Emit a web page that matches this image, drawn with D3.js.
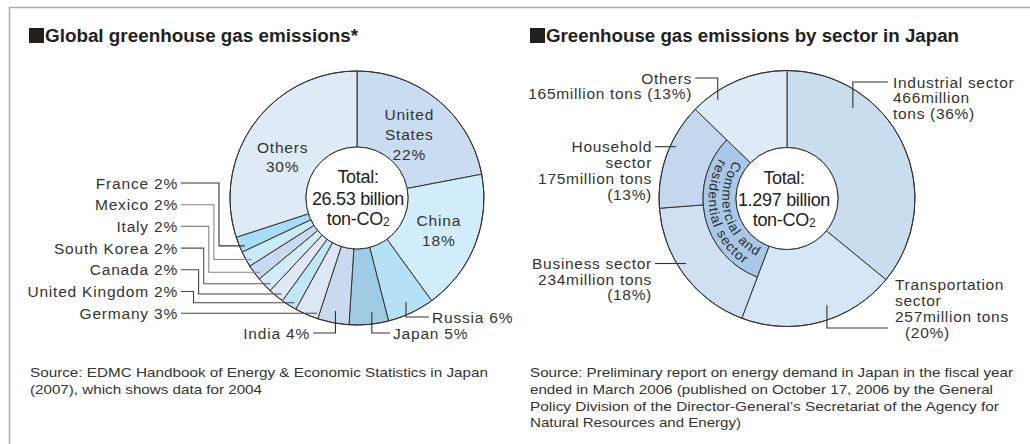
<!DOCTYPE html>
<html><head><meta charset="utf-8">
<script src="https://cdn.jsdelivr.net/npm/d3@7"></script>
<style>
html,body{margin:0;padding:0;background:#fff;}
svg{display:block;font-family:"Liberation Sans",Arial,Helvetica,sans-serif;}
</style></head>
<body>
<svg id="c" width="1030" height="444"></svg>
<script>
// ---------- data ----------
const globalNames = ["United States","China","Russia","Japan","India","Germany","United Kingdom","Canada","South Korea","Italy","Mexico","France","Others"];
const globalShares = [22,18,6,5,4,3,2,2,2,2,2,2,30];
const globalColors = ["#c9dcf1","#d1edfb","#b5e1f6","#9fcbe5","#c9daf0","#dde7f4","#c3e6f7","#dfe9f5","#d3ebf8","#c9d9ef","#c7e9f8","#a9dcf4","#dfeaf7"];
const globalTotal = ["Total:","26.53 billion","ton-CO"];

const sectorNames = ["Industrial sector","Transportation sector","Business sector","Household sector","Others"];
const sectorValues = [466,257,234,175,165];
const sectorPct = [36,20,18,13,13];
const sectorColors = ["#c9ddee","#d5e7f7","#d0e0f3","#c5d7ef","#dfebf8"];
const ringLabel = ["Commercial and","residential sector"];
const ringColor = "#a9c7e7";
const sectorTotal = ["Total:","1.297 billion","ton-CO"];

const titles = ["Global greenhouse gas emissions*","Greenhouse gas emissions by sector in Japan"];
const sourceLeft = ["Source: EDMC Handbook of Energy & Economic Statistics in Japan","(2007), which shows data for 2004"];
const sourceRight = ["Source: Preliminary report on energy demand in Japan in the fiscal year","ended in March 2006 (published on October 17, 2006 by the General","Policy Division of the Director-General\u2019s Secretariat of the Agency for","Natural Resources and Energy)"];

// ---------- drawing ----------
const svg = d3.select("#c");
const txt = "#333";
const deg = Math.PI/180;

// frame
svg.append("path").attr("d","M9.5,444 V7.5 H1030").attr("fill","none").attr("stroke","#aaa").attr("stroke-width",1.5);

// titles
[[29,titles[0],313],[530,titles[1],413]].forEach(([x,t,w])=>{
  svg.append("rect").attr("x",x).attr("y",28).attr("width",15).attr("height",15).attr("fill","#231f20");
  svg.append("text").attr("x",x+16).attr("y",41.5).attr("font-size",18).attr("font-weight","bold")
    .attr("fill","#231f20").attr("textLength",w).attr("lengthAdjust","spacingAndGlyphs").text(t);
});

// sources
function source(lines,x,y0,widths){
  lines.forEach((l,i)=>{
    svg.append("text").attr("x",x).attr("y",y0+i*16.8).attr("font-size",13.5).attr("fill",txt)
      .attr("textLength",widths[i]).attr("lengthAdjust","spacingAndGlyphs").text(l);
  });
}
source(sourceLeft,30,377,[458,232]);
source(sourceRight,530,377,[483,463,469,211]);

function polar(cx,cy,r,a){return [cx+r*Math.sin(a*deg), cy-r*Math.cos(a*deg)];}

function multiline(g,x,y,lines,anchor,lh,opts={}){
  const t=g.append("text").attr("x",x).attr("y",y).attr("text-anchor",anchor)
    .attr("font-size",opts.fs||15.5).attr("letter-spacing",opts.ls==null?0.8:opts.ls).attr("fill",txt);
  const n=lines.length;
  lines.forEach((l,i)=>{
    t.append("tspan").attr("x",x).attr("y",y+(i-(opts.center? (n-1)/2:0))*lh).attr("dy","0.36em").text(l);
  });
  return t;
}

function centerText(g,cx,cy,lines){
  const t=g.append("text").attr("text-anchor","middle").attr("font-size",18).attr("letter-spacing",-0.3).attr("fill","#222");
  t.append("tspan").attr("x",cx).attr("y",cy-21).attr("dy","0.36em").text(lines[0]);
  t.append("tspan").attr("x",cx).attr("y",cy+1).attr("dy","0.36em").text(lines[1]);
  const t3=t.append("tspan").attr("x",cx).attr("y",cy+21).attr("dy","0.36em");
  t3.text(lines[2]);
  t.append("tspan").attr("font-size",12).attr("dy","1").text("2");
}

// ===== Left donut =====
{
  const cx=357, cy=198, R=127, r0=51;
  const g=svg.append("g");
  const pie=d3.pie().sort(null).value(d=>d.v)(globalNames.map((n,i)=>({n,v:globalShares[i],c:globalColors[i]})));
  const arc=d3.arc().innerRadius(r0).outerRadius(R);
  const gg=g.append("g").attr("transform",`translate(${cx},${cy})`);
  gg.selectAll("path").data(pie).join("path").attr("d",arc).attr("fill",d=>d.data.c)
    .attr("stroke","#333").attr("stroke-width",1);
  gg.append("circle").attr("r",R).attr("fill","none").attr("stroke","#333").attr("stroke-width",1);
  gg.append("circle").attr("r",r0).attr("fill","#fff").attr("stroke","#333").attr("stroke-width",1);
  centerText(g,cx+1,cy,globalTotal);

  const byName={}; pie.forEach(p=>byName[p.data.n]=p);
  const mid=p=>(p.startAngle+p.endAngle)/2/deg;
  const lab=(p)=>`${p.data.n} ${p.data.v}%`;

  // inside labels
  const us=byName["United States"], cn=byName["China"], ot=byName["Others"];
  let [x,y]=polar(cx,cy,82,mid(us));
  multiline(g,x,y,["United","States",us.data.v+"%"],"middle",20,{center:true});
  [x,y]=polar(cx,cy,88,mid(cn));
  multiline(g,x,y,[cn.data.n,cn.data.v+"%"],"middle",19.5,{center:true});
  [x,y]=polar(cx,cy,85,mid(ot)-7);
  multiline(g,x,y,[ot.data.n,ot.data.v+"%"],"middle",19.5,{center:true});

  // stacked left labels
  const stack=["France","Mexico","Italy","South Korea","Canada","United Kingdom","Germany"];
  const lineCols=["#333","#888","#888","#555","#444","#444","#444"];
  stack.forEach((n,i)=>{
    const p=byName[n]; const ly=183+i*21.7;
    multiline(g,178,ly,[lab(p)],"end",0);
    const [ax,ay]=polar(cx,cy,122,mid(p)-1.5);
    let d;
    if(n==="Germany"){ d=`M181,${ly}H${cx-Math.sqrt(122*122-(ly-cy)*(ly-cy))}`; }
    else { const ex=219-5.1*i; d=`M181,${ly}H${ex}V${ay}H${ax}`; }
    g.append("path").attr("d",d).attr("fill","none").attr("stroke",lineCols[i]).attr("stroke-width",1.1);
  });

  // bottom labels
  const bottom=[["India",333,-1,310],["Japan",333,1,393],["Russia",317,1,432]];
  bottom.forEach(([n,ly,side,tx])=>{
    const p=byName[n];
    const [ax,ay]=polar(cx,cy,115,mid(p)-(n==="Japan"?2:0));
    g.append("path").attr("d",`M${ax},${ay}V${ly}H${tx+(side<0?3:-3)}`).attr("fill","none").attr("stroke","#333").attr("stroke-width",1.1);
    multiline(g,tx,ly,[lab(p)],side<0?"end":"start",0);
  });
}

// ===== Right donut =====
{
  const cx=787, cy=198.5, R=128, r0=51, rm=84;
  const g=svg.append("g");
  const data=sectorNames.map((n,i)=>({n,v:sectorValues[i],p:sectorPct[i],c:sectorColors[i],i}));
  const pie=d3.pie().sort(null).value(d=>d.v)(data);
  const gg=g.append("g").attr("transform",`translate(${cx},${cy})`);
  const inner=d=>(d.data.i===2||d.data.i===3)?rm:r0;
  gg.selectAll("path.s").data(pie).join("path").attr("class","s")
    .attr("d",d=>d3.arc().innerRadius(inner(d)).outerRadius(R)(d))
    .attr("fill",d=>d.data.c).attr("stroke","#333").attr("stroke-width",1);
  // commercial & residential ring
  const ringStart=pie[2].startAngle, ringEnd=pie[3].endAngle;
  gg.append("path").attr("d",d3.arc().innerRadius(r0).outerRadius(rm).startAngle(ringStart).endAngle(ringEnd)())
    .attr("fill",ringColor).attr("stroke","#333").attr("stroke-width",1);
  gg.append("circle").attr("r",R).attr("fill","none").attr("stroke","#333").attr("stroke-width",1);
  gg.append("circle").attr("r",r0).attr("fill","#fff").attr("stroke","#333").attr("stroke-width",1);
  centerText(g,cx-3,cy,sectorTotal);

  // curved ring text
  const midA=(ringStart+ringEnd)/2/deg - 1;
  [[65,ringLabel[0]],[78.5,ringLabel[1]]].forEach(([rr,t],k)=>{
    const a1=midA+85, a2=midA-85;
    const [x1,y1]=polar(cx,cy,rr,a1), [x2,y2]=polar(cx,cy,rr,a2);
    svg.append("defs").append("path").attr("id","rp"+k).attr("d",`M${x1},${y1}A${rr},${rr} 0 0 0 ${x2},${y2}`);
    svg.append("text").attr("font-size",13.5).attr("letter-spacing",1).attr("fill","#2a2a2a")
      .append("textPath").attr("href","#rp"+k).attr("startOffset","50%").attr("text-anchor","middle").text(t);
  });

  const mt=(d)=>`${d.v}million`;
  const lc="#333";
  // Industrial
  let d=pie[0].data; let [ax,ay]=polar(cx,cy,112,36);
  g.append("path").attr("d",`M${ax},${ay}V82H888`).attr("fill","none").attr("stroke",lc).attr("stroke-width",1.1);
  multiline(g,893,82,[d.n,mt(d),`tons (${d.p}%)`],"start",15.5,{ls:0.7});
  // Transportation
  d=pie[1].data; [ax,ay]=polar(cx,cy,114,159.5);
  g.append("path").attr("d",`M${ax},${ay}V328H888`).attr("fill","none").attr("stroke",lc).attr("stroke-width",1.1);
  multiline(g,895,284,["Transportation","sector",`${mt(d)} tons`,` (${d.p}%)`],"start",16,{ls:0.7});
  g.selectAll("text").filter(function(){return this.textContent.startsWith("Transportation");})
    .select("tspan:last-child").attr("x",900);
  // Business
  d=pie[2].data; [ax,ay]=polar(cx,cy,120,237.2);
  g.append("path").attr("d",`M${ax},${ay}H655`).attr("fill","none").attr("stroke",lc).attr("stroke-width",1.1);
  multiline(g,652,ay,[d.n,`${mt(d)} tons`,`(${d.p}%)`],"end",15.7,{ls:0.7});
  // Household
  d=pie[3].data; [ax,ay]=polar(cx,cy,122.6,295);
  g.append("path").attr("d",`M${ax},${ay}H655`).attr("fill","none").attr("stroke",lc).attr("stroke-width",1.1);
  multiline(g,652,ay,["Household","sector",`${mt(d)} tons`,`(${d.p}%)`],"end",16,{ls:0.7});
  // Others
  d=pie[4].data; [ax,ay]=polar(cx,cy,120.7,325);
  g.append("path").attr("d",`M${ax},${ay}V78H695`).attr("fill","none").attr("stroke",lc).attr("stroke-width",1.1);
  multiline(g,692,78,[d.n,`${mt(d)} tons (${d.p}%)`],"end",15.5,{ls:0.7});
}
</script>
</body></html>
